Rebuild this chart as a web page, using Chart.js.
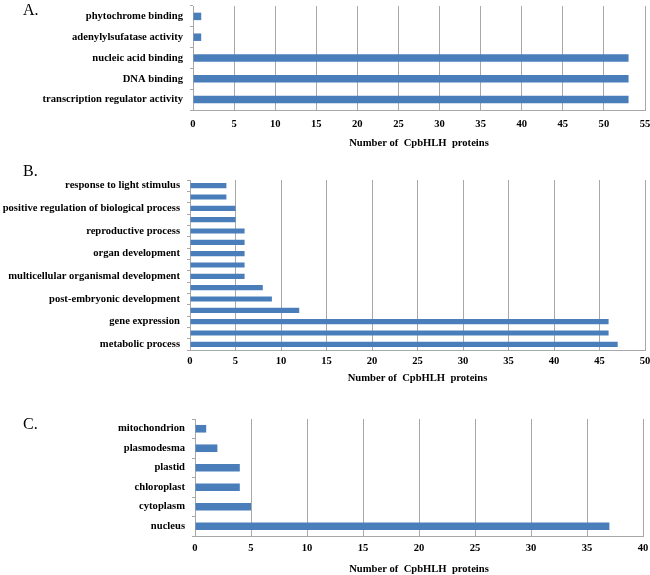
<!DOCTYPE html>
<html>
<head>
<meta charset="utf-8">
<script src="https://cdn.jsdelivr.net/npm/chart.js@4"></script>
<style>
    body { margin: 0; background: #fff; }
    #page { position: relative; width: 650px; height: 575px; overflow: hidden; }
    .panel { position: absolute; left: 0; width: 650px; }
    .letter { position: absolute; left: 23px; font: 16px "Liberation Serif", serif; color: #000; }
</style>
</head>
<body>
<div id="page">
    <div class="panel" style="top:0;height:150px"><canvas id="chartA"></canvas></div>
    <div class="panel" style="top:160px;height:225px"><canvas id="chartB"></canvas></div>
    <div class="panel" style="top:390px;height:186px"><canvas id="chartC"></canvas></div>
    <div class="letter" style="top:1px">A.</div>
    <div class="letter" style="top:162px">B.</div>
    <div class="letter" style="top:415px">C.</div>
</div>
<script>
// A. molecular function (top to bottom)
const functionLabels = [
    'phytochrome binding',
    'adenylylsufatase activity',
    'nucleic acid binding',
    'DNA binding',
    'transcription regulator activity'
];
const functionCounts = [1, 1, 53, 53, 53];
const functionTicks = { max: 55, step: 5 };

// B. biological process; the reference labels only every other bar
const processLabels = [
    'response to light stimulus', '',
    'positive regulation of biological process', '',
    'reproductive process', '',
    'organ development', '',
    'multicellular organismal development', '',
    'post-embryonic development', '',
    'gene expression', '',
    'metabolic process'
];
const processCounts = [4, 4, 5, 5, 6, 6, 6, 6, 6, 8, 9, 12, 46, 46, 47];
const processTicks = { max: 50, step: 5 };

// C. cellular component
const componentLabels = ['mitochondrion', 'plasmodesma', 'plastid', 'chloroplast', 'cytoplasm', 'nucleus'];
const componentCounts = [1, 2, 4, 4, 5, 37];
const componentTicks = { max: 40, step: 5 };

const axisTitle = 'Number of  CpbHLH  proteins';
const barColor = '#4a7ebb';
const gridColor = '#a8a8a8';
const labelFont = { family: '"Liberation Serif", serif', size: 10.6, weight: 'bold', lineHeight: 1.1 };

const makePanel = (canvasId, labels, counts, ticks, layout) => {
    return new Chart(document.getElementById(canvasId), {
        type: 'bar',
        data: {
            labels,
            datasets: [{
                data: counts,
                backgroundColor: barColor,
                borderWidth: 0,
                categoryPercentage: 1,
                barPercentage: layout.barPercentage
            }]
        },
        options: {
            indexAxis: 'y',
            responsive: true,
            maintainAspectRatio: false,
            animation: false,
            layout: { padding: { top: layout.top, right: 650 - layout.right, bottom: 0, left: 0 } },
            plugins: { legend: { display: false }, tooltip: { enabled: false } },
            scales: {
                x: {
                    min: 0,
                    max: ticks.max,
                    grid: { color: gridColor, drawTicks: false },
                    border: { color: gridColor },
                    ticks: {
                        stepSize: ticks.step,
                        padding: layout.tickPad,
                        color: '#000',
                        font: labelFont
                    },
                    title: {
                        display: true,
                        text: axisTitle,
                        padding: 0,
                        color: '#000',
                        font: { family: '"Liberation Serif", serif', size: 10.6, weight: 'bold', lineHeight: 1.2 }
                    },
                    afterFit: (scale) => {
                        scale.height = layout.xHeight;
                        scale.paddingLeft = 0;
                        scale.paddingRight = 0;
                    }
                },
                y: {
                    grid: { color: gridColor, drawOnChartArea: false, drawTicks: true, tickLength: 3 },
                    border: { color: gridColor },
                    ticks: {
                        autoSkip: false,
                        padding: 7,
                        color: '#000',
                        font: labelFont
                    },
                    afterFit: (scale) => {
                        scale.width = layout.left;
                        scale.paddingTop = 0;
                        scale.paddingBottom = 0;
                    }
                }
            }
        }
    });
};

makePanel('chartA', functionLabels, functionCounts, functionTicks,
    { left: 193, right: 645, top: 6, xHeight: 40, tickPad: 8, barPercentage: 0.36 });
makePanel('chartB', processLabels, processCounts, processTicks,
    { left: 190, right: 645, top: 20, xHeight: 35, tickPad: 5, barPercentage: 0.45 });
makePanel('chartC', componentLabels, componentCounts, componentTicks,
    { left: 195, right: 643, top: 29, xHeight: 40, tickPad: 6, barPercentage: 0.39 });
</script>
</body>
</html>
